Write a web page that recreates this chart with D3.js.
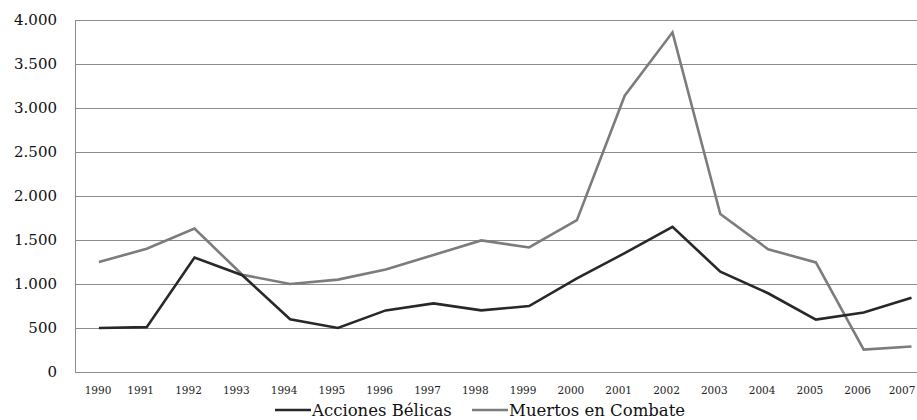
<!DOCTYPE html>
<html>
<head>
<meta charset="utf-8">
<script src="https://cdn.jsdelivr.net/npm/d3@7"></script>
<style>
  body { margin: 0; background: #fff; }
  svg { display: block; }
  .ytick text { font-family: "DejaVu Serif", serif; font-size: 15px; fill: #111; }
  .xtick text { font-family: "DejaVu Serif", serif; font-size: 10.5px; fill: #222; }
  .legend text { font-family: "DejaVu Serif", serif; font-size: 16.5px; fill: #111; }
</style>
</head>
<body>
<svg id="chart" width="917" height="420"></svg>
<script>
const years = ["1990","1991","1992","1993","1994","1995","1996","1997","1998","1999",
               "2000","2001","2002","2003","2004","2005","2006","2007"];
const acciones = [500, 510, 1300, 1100, 600, 500, 700, 780, 700, 750,
                  1065, 1350, 1650, 1140, 895, 595, 675, 845];
const muertos = [1250, 1400, 1630, 1105, 1000, 1050, 1165, 1330, 1495, 1415,
                 1725, 3140, 3860, 1795, 1395, 1245, 255, 290];
const yTicks = [0, 500, 1000, 1500, 2000, 2500, 3000, 3500, 4000];
const seriesNames = ["Acciones Bélicas", "Muertos en Combate"];

const svg = d3.select("#chart");
const plotLeft = 75, plotTop = 20, plotBottom = 372;
const step = 47.8;
// category axis like a spreadsheet: the plot runs past the right edge of the image
const x = d3.scaleBand().domain(years).range([plotLeft, plotLeft + step * years.length]);
const y = d3.scaleLinear().domain([0, 4000]).range([plotBottom, plotTop]);
const cx = d => x(d) + x.bandwidth() / 2;

const fmt = d3.formatLocale({decimal: ",", thousands: ".", grouping: [3], currency: ["", ""]}).format(",");

// grid
svg.append("g")
   .selectAll("line")
   .data(yTicks.filter(d => d > 0))
   .enter()
   .append("line")
   .attr("x1", plotLeft).attr("x2", 917)
   .attr("y1", d => Math.round(y(d)) + 0.5).attr("y2", d => Math.round(y(d)) + 0.5)
   .attr("stroke", "#8c8c8c").attr("stroke-width", 1);

// axes
svg.append("line").attr("x1", plotLeft + 0.5).attr("x2", plotLeft + 0.5)
   .attr("y1", plotTop).attr("y2", plotBottom).attr("stroke", "#8c8c8c");
svg.append("line").attr("x1", plotLeft).attr("x2", 917)
   .attr("y1", plotBottom + 0.5).attr("y2", plotBottom + 0.5).attr("stroke", "#8c8c8c");

svg.append("g").attr("class", "ytick")
   .selectAll("text")
   .data(yTicks)
   .enter()
   .append("text")
   .attr("x", 57).attr("y", d => y(d) + 5)
   .attr("text-anchor", "end")
   .text(d => fmt(d));

// year labels sit a little left of their points, kept inside the picture
svg.append("g").attr("class", "xtick")
   .selectAll("text")
   .data(years)
   .enter()
   .append("text")
   .attr("x", d => Math.max(98, Math.min(902, cx(d) - 6))).attr("y", 394)
   .attr("text-anchor", "middle")
   .text(d => d);

// lines
const line = d3.line().x((d, i) => cx(years[i])).y(d => y(d));
svg.append("path").datum(muertos)
   .attr("d", line).attr("fill", "none")
   .attr("stroke", "#7c7c7c").attr("stroke-width", 2.6).attr("stroke-linejoin", "miter");
svg.append("path").datum(acciones)
   .attr("d", line).attr("fill", "none")
   .attr("stroke", "#282828").attr("stroke-width", 2.6).attr("stroke-linejoin", "miter");

// legend
const legend = svg.append("g").attr("class", "legend");
const items = [
  {name: seriesNames[0], color: "#282828", x: 275},
  {name: seriesNames[1], color: "#7c7c7c", x: 472}
];
items.forEach(it => {
  legend.append("line").attr("x1", it.x).attr("x2", it.x + 36)
        .attr("y1", 410).attr("y2", 410)
        .attr("stroke", it.color).attr("stroke-width", 2.6);
  legend.append("text").attr("x", it.x + 37).attr("y", 416).text(it.name);
});
</script>
</body>
</html>
